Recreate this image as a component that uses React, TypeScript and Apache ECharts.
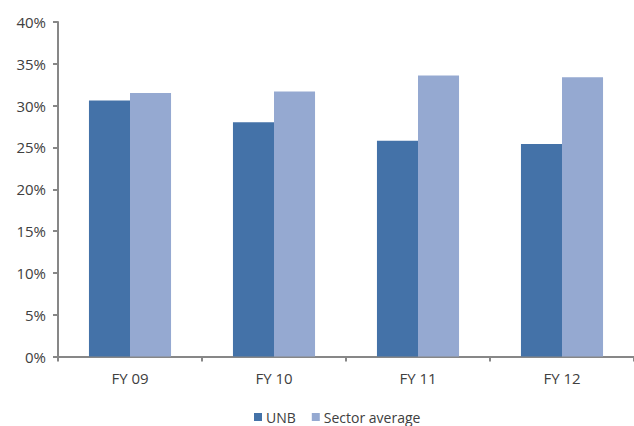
import React, { useEffect, useRef } from "react";
import * as echarts from "echarts";

const categories = ["FY 09", "FY 10", "FY 11", "FY 12"];
const unb = [30.6, 28.0, 25.8, 25.4];
const sectorAverage = [31.5, 31.7, 33.6, 33.4];
const seriesNames = ["UNB", "Sector average"];

export default function App() {
  const ref = useRef<HTMLDivElement>(null);
  useEffect(() => {
    const chart = echarts.init(ref.current!, null, { renderer: "svg" });
    const font = "'Open Sans', sans-serif";
    chart.setOption({
      animation: false,
      backgroundColor: "#ffffff",
      grid: { left: 58, top: 22, width: 587, height: 334.5, containLabel: false },
      legend: {
        data: seriesNames,
        top: 405,
        left: 249,
        itemWidth: 8,
        itemHeight: 8,
        itemGap: 16,
        icon: "rect",
        textStyle: { fontFamily: font, fontSize: 14, color: "#404040", padding: [0, 0, 0, -1] },
      },
      xAxis: {
        type: "category",
        data: categories,
        axisLine: { lineStyle: { color: "#878787", width: 2 } },
        axisTick: { show: true, length: 5, lineStyle: { color: "#878787", width: 2 } },
        axisLabel: { fontFamily: font, fontSize: 15, color: "#404040", margin: 14 },
      },
      yAxis: {
        type: "value",
        min: 0,
        max: 40,
        interval: 5,
        splitLine: { show: false },
        axisLine: { show: true, lineStyle: { color: "#878787", width: 2 } },
        axisTick: { show: true, length: 5, lineStyle: { color: "#878787", width: 2 } },
        axisLabel: { fontFamily: font, fontSize: 15, color: "#404040", margin: 12, formatter: "{value}%" },
      },
      series: [
        {
          name: seriesNames[0],
          type: "bar",
          data: unb,
          barGap: "0%",
          barCategoryGap: "43%",
          itemStyle: { color: "#4472A8" },
        },
        {
          name: seriesNames[1],
          type: "bar",
          data: sectorAverage,
          itemStyle: { color: "#95A9D1" },
        },
      ],
    });
    return () => chart.dispose();
  }, []);
  return <div ref={ref} style={{ width: 634, height: 426, position: "absolute", left: 0, top: 0 }} />;
}
